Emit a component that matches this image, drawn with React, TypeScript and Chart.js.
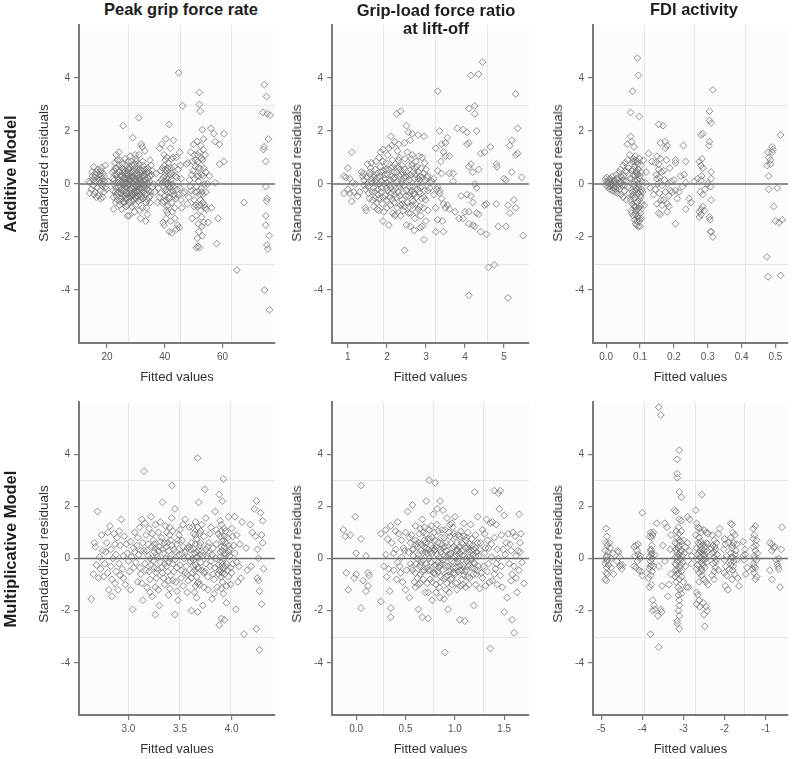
import React, { useEffect, useRef } from "react";
import { Chart, registerables } from "chart.js";

Chart.register(...registerables);
Chart.defaults.font.family = '"Liberation Sans", Arial, Helvetica, sans-serif';

type Pt = [number, number];

// ---------------- Data ----------------
const columnTitles = [["Peak grip force rate"], ["Grip-load force ratio", "at lift-off"], ["FDI activity"]];
const rowTitles = ["Additive Model", "Multiplicative Model"];
const yTitle = "Standardized residuals";
const xTitle = "Fitted values";
const yTicks = [-4, -2, 0, 2, 4];
const refLinesY = [-3, 3];

const addPeakGrip: Pt[] = [
  [14.0,-0.35],[14.2,0.05],[14.6,-0.2],[14.9,0.3],[15.1,-0.05],[15.4,0.65],[15.7,0.25],[15.9,-0.3],[16.1,0.1],[16.4,0.45],[16.6,-0.15],[16.9,0.2],[17.1,-0.45],[17.3,0.35],[17.5,0.05],[17.7,-0.25],[17.9,0.5],[18.0,0.3],[18.2,-0.05],[18.4,0.2],[18.5,-0.5],[18.7,0.4],[18.9,-0.3],[19.1,0.1],[19.4,0.7],[19.8,-0.2],[20.3,0.1],[14.8,0.45],[15.5,-0.4],[16.8,0.55],[17.8,-0.55],[18.1,0.62],[13.7,0.1],[16.3,-0.5],[19.6,-0.1],[17.4,0.15],[18.6,0.0],[15.2,0.15],[16.0,0.35],[19.0,0.3],
  [22.0,0.2],[22.3,-0.95],[22.6,0.5],[22.9,-0.3],[23.2,1.1],[23.5,-0.6],[23.8,0.05],[24.1,1.2],[24.4,-0.8],[24.7,0.3],[25.0,-0.2],[25.3,0.75],[25.6,2.2],[25.9,-0.45],[26.2,0.95],[26.5,-0.85],[26.8,0.1],[27.1,-1.2],[27.4,0.55],[27.7,-1.2],[28.0,1.05],[28.3,-0.35],[28.6,0.25],[28.9,1.75],[29.2,-0.6],[29.5,-1.05],[29.8,1.1],[30.1,0.4],[30.4,-0.25],[30.7,0.65],[31.0,2.5],[31.3,-1.0],[31.6,-1.3],[31.9,1.5],[32.2,1.4],[32.5,-0.55],[32.8,0.15],[33.1,1.25],[33.4,-1.4],[33.7,0.45],[34.0,-1.15],[34.3,0.2],[34.6,-0.5],[34.9,0.9],[35.2,-0.3],[35.5,0.35],[35.8,-0.1],
  [22.4,0.0],[22.8,0.35],[23.1,-0.15],[23.4,0.6],[23.7,-0.35],[24.0,0.15],[24.3,0.45],[24.6,-0.1],[24.9,-0.55],[25.2,0.3],[25.5,0.0],[25.8,0.55],[26.1,-0.25],[26.4,0.2],[26.7,0.7],[27.0,-0.4],[27.3,0.0],[27.6,0.35],[27.9,-0.7],[28.2,0.6],[28.5,-0.15],[28.8,0.05],[29.1,0.5],[29.4,-0.3],[29.7,0.2],[30.0,-0.55],[30.3,0.1],[30.6,-0.1],[30.9,0.35],[31.2,-0.4],[31.5,0.15],[31.8,-0.2],[32.1,0.5],[32.4,0.0],[32.7,-0.3],[33.0,0.3],[33.3,-0.05],[33.6,0.55],[33.9,-0.35],[34.2,0.0],
  [22.2,-0.5],[22.7,0.8],[23.0,-0.7],[23.6,0.25],[24.2,-0.3],[24.5,0.9],[25.1,-0.95],[25.4,0.45],[25.7,-0.65],[26.0,0.05],[26.3,-0.55],[26.6,0.4],[26.9,-0.15],[27.2,0.85],[27.5,-0.05],[27.8,0.15],[28.1,-0.5],[28.4,0.85],[28.7,-0.85],[29.0,0.25],[29.3,0.75],[29.6,-0.15],[29.9,-0.8],[30.2,0.85],[30.5,-0.45],[30.8,0.05],[31.1,1.1],[31.4,0.55],[31.7,-0.6],[32.0,0.25],[32.3,-0.9],[32.6,0.7],[32.9,-0.15],[33.2,0.4],[33.5,-0.7],[33.8,0.05],[34.1,0.6],[34.4,-0.25],[34.8,0.3],[35.6,0.5],[36.2,0.0],
  [25.0,-0.35],[25.3,0.1],[25.9,0.25],[26.2,-0.1],[26.5,0.0],[26.8,-0.3],[27.1,0.2],[27.4,-0.5],[27.7,0.1],[28.0,-0.2],[28.3,0.4],[28.6,-0.45],[28.9,-0.1],[29.2,0.1],[29.5,0.35],[29.8,-0.35],[30.1,-0.05],[30.4,0.3],[30.7,-0.3],[31.0,0.0],[31.3,0.25],[31.6,0.1],[31.9,-0.45],[32.2,-0.15],
  [21.8,0.45],[22.1,-0.25],[22.5,0.15],[22.9,0.6],[23.3,-0.45],[23.6,0.9],[23.9,-0.1],[24.2,0.7],[24.5,-0.65],[24.8,0.05],[25.1,0.6],[25.4,-0.25],[25.7,0.2],[26.0,-0.7],[26.3,0.5],[26.6,-0.35],[26.9,0.35],[27.2,-0.8],[27.5,0.25],[27.8,-0.35],[28.1,0.15],[28.4,-0.6],[28.7,0.45],[29.0,-0.4],[29.3,0.0],[29.6,0.6],[29.9,0.1],[30.2,-0.3],[30.5,0.55],[30.8,-0.65],[31.1,0.2],[31.4,-0.15],[31.7,0.4],[32.0,-0.5],[32.3,0.3],[32.6,-0.05],[32.9,0.55],[33.2,-0.4],[33.5,0.15],[33.8,-0.2],[34.1,-0.6],[34.4,0.45],[34.7,0.1],[35.0,-0.45],[35.3,0.7],[23.5,0.35],[24.7,-0.35],[26.1,0.45],[27.3,0.6],[28.5,0.3],[29.7,-0.5],[30.9,-0.2],[32.4,0.85],[33.6,-0.9],[34.9,-0.7],[25.6,-0.05],[26.7,-0.55],[28.8,0.7],[30.0,0.95],[31.2,0.75],
  [36.5,-0.3],[37.0,0.4],[37.5,-0.7],[38.0,0.05],[38.3,1.35],[38.6,-0.35],[38.9,1.5],[39.2,0.6],[39.4,-1.45],[39.6,-0.1],[39.8,-1.55],[40.0,0.3],[40.2,0.9],[40.4,1.7],[40.5,-0.6],[40.6,0.0],[40.7,-0.85],[40.8,0.5],[40.9,-0.3],[41.0,-1.1],[41.1,0.2],[41.2,0.8],[41.3,-0.5],[41.5,2.25],[41.6,-1.8],[41.7,0.35],[41.8,-0.15],[42.0,1.35],[42.1,-1.4],[42.2,0.6],[42.4,-0.7],[42.5,-1.85],[42.7,0.0],[42.9,1.0],[43.0,1.65],[43.2,-0.4],[43.5,-1.3],[43.7,0.3],[44.0,1.0],[44.1,-1.7],[44.3,-0.2],[44.5,-1.55],[44.8,4.2],[45.0,-1.65],[45.2,1.2],[45.4,0.7],[45.6,-0.6],[45.9,-0.9],[46.2,2.95],[40.1,-0.45],[40.3,0.1],[39.9,0.7],[41.4,-0.05],[40.6,-1.0],[39.5,0.25],[41.9,0.45],[43.4,-0.9],[42.8,-0.25],[44.6,0.55],[39.1,-0.7],[43.8,-0.55],[46.5,-0.35],[38.8,0.15],[40.8,1.0],[42.3,0.95],[37.8,-0.15],[45.7,0.2],
  [38.2,-0.5],[38.7,0.5],[39.3,0.05],[39.7,-0.65],[40.1,0.55],[40.4,-0.2],[40.7,0.25],[41.0,0.6],[41.3,0.05],[41.6,-0.55],[41.9,-0.3],[42.2,0.15],[42.6,0.4],[43.0,-0.1],[43.3,0.65],[43.6,-0.45],[44.2,0.25],[44.7,-0.4],[45.3,-0.15],[40.5,-1.3],[41.1,-0.8],[39.8,1.1],[42.6,-1.05],
  [47.0,-0.3],[47.5,0.75],[47.8,-0.75],[48.0,0.8],[48.3,-0.5],[48.6,0.15],[49.0,1.2],[49.2,-0.25],[49.5,-1.3],[49.8,0.5],[50.0,1.5],[50.2,-0.6],[50.5,-0.3],[50.7,0.9],[50.9,-1.2],[51.0,-2.4],[51.1,0.3],[51.2,1.6],[51.3,-2.05],[51.4,-0.85],[51.5,-2.35],[51.5,0.85],[51.6,-1.5],[51.7,0.1],[51.8,-1.8],[51.9,1.2],[52.0,-2.4],[52.0,3.45],[52.0,3.0],[52.1,-0.4],[52.2,0.6],[52.3,2.75],[52.4,-1.0],[52.5,1.45],[52.6,-0.15],[52.7,-1.25],[52.8,0.35],[53.0,2.05],[53.0,-1.95],[53.1,0.9],[53.2,-0.7],[53.4,1.3],[53.5,1.7],[53.5,-1.45],[53.7,0.0],[53.8,-0.8],[54.0,1.1],[54.0,-0.9],[54.2,0.45],[54.5,-0.95],[54.8,0.0],[55.0,-1.45],[51.6,0.6],[52.4,-0.6],[50.4,0.2],[53.3,0.3],[51.0,-0.1],[52.9,-0.3],[49.6,0.85],[50.8,-0.8],
  [48.8,-0.1],[49.4,0.35],[50.1,-0.85],[50.6,0.65],[51.2,-0.3],[51.8,0.3],[52.2,-0.8],[52.6,0.95],[53.1,-0.4],[53.6,0.6],[54.3,-0.3],[51.4,1.1],[52.8,-1.6],[50.3,1.1],
  [56.0,2.1],[57.0,1.9],[57.5,1.6],[59.0,1.5],[60.5,1.9],[59.0,0.75],[60.5,0.85],[57.5,0.05],[58.5,-1.3],[58.0,-2.25],[56.2,-0.9],[55.5,0.3],[65.0,-3.25],[67.5,-0.7],
  [74.5,3.75],[75.3,3.3],[74.0,2.7],[75.5,2.65],[75.9,1.7],[74.4,1.4],[74.2,1.3],[75.0,0.85],[75.0,-0.1],[75.5,-0.55],[75.3,-0.65],[75.0,-1.2],[75.0,-1.55],[75.4,-2.3],[75.7,-2.45],[74.6,-4.0],[76.3,-4.75],[76.5,2.6],[76.2,-1.95]
];

const addGripLoad: Pt[] = [
  [0.9,0.3],[0.95,0.25],[1.0,0.6],[1.05,0.2],[1.1,1.2],[1.0,-0.2],[0.9,-0.35],[1.05,-0.35],[1.1,-0.65],[1.15,-0.3],[1.2,0.0],[1.25,-0.45],[1.3,-0.3],[1.12,0.05],[1.35,0.45],[1.38,0.3],
  [1.40,0.4],[1.45,-0.2],[1.50,0.75],[1.55,-0.55],[1.60,0.1],[1.65,-0.15],[1.70,0.55],[1.75,-0.7],[1.80,1.0],[1.85,-0.3],[1.90,1.3],[1.95,0.2],[2.00,-0.9],[2.05,1.35],[2.10,0.6],[2.15,-1.1],[2.20,1.6],[2.25,-0.5],[2.30,0.9],[2.35,-0.8],[2.40,0.45],[2.45,1.55],[2.50,-0.25],[2.55,0.7],[2.60,-1.1],[2.65,1.1],[2.70,-0.4],[2.75,0.85],[2.80,-0.95],[2.85,0.3],[2.90,1.0],[2.95,-0.5],[3.00,0.55],[3.05,-0.25],[3.10,0.05],
  [1.42,-0.05],[1.48,0.25],[1.53,-0.35],[1.58,0.6],[1.63,-0.6],[1.68,0.3],[1.73,0.05],[1.78,-0.4],[1.83,0.65],[1.88,-0.75],[1.93,0.0],[1.98,0.8],[2.03,-0.25],[2.08,0.15],[2.13,-0.6],[2.18,0.45],[2.23,-0.15],[2.28,0.1],[2.33,-0.45],[2.38,0.7],[2.43,-0.05],[2.48,0.3],[2.53,-0.7],[2.58,0.15],[2.63,-0.25],[2.68,0.45],[2.73,-0.75],[2.78,0.05],[2.83,-0.3],[2.88,0.6],[2.93,-0.9],[2.98,0.15],
  [1.50,0.0],[1.57,0.35],[1.62,-0.3],[1.70,-0.55],[1.76,0.25],[1.81,0.0],[1.86,-0.15],[1.91,0.5],[1.96,-0.45],[2.01,0.35],[2.06,-0.05],[2.11,-0.35],[2.16,0.2],[2.21,0.75],[2.26,-0.9],[2.31,0.3],[2.36,0.0],[2.41,-0.3],[2.46,0.95],[2.51,0.1],[2.56,-0.45],[2.61,0.35],[2.66,-0.1],[2.71,0.2],[2.76,-0.5],[2.81,0.45],[2.86,-0.15],[2.91,0.25],[2.96,-0.25],
  [1.72,0.85],[1.84,1.2],[1.92,-1.05],[2.02,1.1],[2.12,1.45],[2.22,-1.15],[2.27,1.25],[2.32,1.0],[2.42,-1.0],[2.52,1.2],[2.62,0.95],[2.72,-1.3],[2.82,1.05],[2.87,-1.2],[2.97,0.8],[1.66,-0.85],[1.79,-1.0],[2.09,-0.8],[2.19,-0.7],[2.39,-0.6],[2.57,-0.85],[2.67,-0.65],[2.77,0.65],[1.97,0.55],[2.14,0.9],[2.34,0.55],[2.44,0.25],[2.24,0.05],
  [1.41,0.15],[1.52,-0.1],[1.56,0.45],[1.61,0.2],[1.64,0.05],[1.69,-0.3],[1.74,0.4],[1.77,-0.2],[1.82,0.3],[1.87,0.1],[1.89,-0.5],[1.94,0.35],[1.99,-0.15],[2.04,0.55],[2.07,-0.5],[2.12,0.3],[2.17,-0.25],[2.2,0.25],[2.25,0.45],[2.29,-0.3],[2.32,-0.1],[2.37,0.35],[2.4,-0.75],[2.45,0.55],[2.49,-0.45],[2.54,0.3],[2.59,-0.1],[2.64,0.7],[2.69,-0.35],[2.74,0.35],[2.79,-0.2],[2.84,0.15],[2.89,-0.55],[2.94,0.4],[2.99,-0.6],[3.02,0.25],[1.7,0.15],[1.8,-0.55],[1.9,0.85],[2.0,0.05],[2.1,-0.15],[2.2,-0.4],[2.3,0.65],[2.4,0.1],[2.5,0.45],[2.6,-0.35],[2.7,0.6],[2.8,0.2],[2.9,-0.1],[2.0,-0.6],[2.15,0.65],[2.35,-1.2],[2.55,-1.1],[2.75,-1.05],[1.85,0.45],[2.45,-0.85],[2.65,-0.8],[2.85,-0.85],
  [2.25,2.65],[2.35,2.75],[2.5,2.2],[2.55,1.95],[2.65,1.9],[2.6,1.65],[2.8,1.85],[2.95,1.8],[2.1,1.8],[2.3,1.5],[2.45,-2.5],[2.95,-2.1],[1.45,-0.9],[1.47,-1.0],[1.9,-1.4],[2.05,-1.55],[2.5,-1.55],[2.6,-1.6],[2.7,-1.75],[2.85,-1.65],[2.9,-1.6],[2.2,-1.2],[3.0,-1.4],[3.05,-1.0],[1.75,-0.95],[1.6,0.8],
  [3.3,3.5],[3.35,2.0],[3.25,1.35],[3.4,1.5],[3.5,1.55],[3.55,1.75],[3.45,1.2],[3.5,1.05],[3.6,1.05],[3.3,0.5],[3.4,0.4],[3.6,0.4],[3.7,0.1],[3.3,-0.1],[3.35,-0.25],[3.2,-0.4],[3.4,-0.55],[3.25,-0.9],[3.45,-0.75],[3.5,-0.9],[3.3,-1.35],[3.45,-1.8],[3.25,-1.8],[3.55,-0.8],[3.6,-0.95],[3.1,-0.15],[3.15,0.1],[3.05,0.3],[3.2,0.2],[3.35,-0.35],[3.28,-0.2],[3.38,0.85],[3.42,-1.4],
  [3.8,2.1],[3.95,2.05],[4.05,1.95],[4.3,2.0],[4.15,4.1],[4.35,4.15],[4.45,4.6],[4.1,2.85],[4.25,2.95],[4.25,2.65],[4.05,1.5],[4.1,1.55],[4.4,1.15],[4.5,1.2],[4.65,1.4],[4.8,0.75],[4.82,0.65],[4.1,0.65],[4.15,0.75],[4.35,0.55],[4.2,0.45],[4.25,0.0],[4.3,-0.15],[3.9,-0.45],[4.05,-0.4],[4.15,-0.45],[4.2,-0.7],[4.3,-1.1],[4.35,-1.15],[4.1,-1.05],[4.0,-1.05],[3.95,-1.3],[4.5,-0.8],[4.55,-0.75],[4.8,-0.75],[4.1,-1.5],[4.2,-1.55],[4.25,-1.6],[4.4,-1.8],[4.55,-1.9],[4.85,-1.6],[4.6,-3.15],[4.75,-3.05],[4.1,-4.2],[5.1,-4.3],[5.0,0.2],[5.05,0.15],[5.15,1.45],[5.2,1.65],[5.3,1.1],[5.35,1.15],[5.35,2.1],[5.3,3.4],[5.2,0.45],[5.45,0.25],[5.1,-0.8],[5.25,-0.6],[5.15,-1.1],[5.3,-0.9],[5.05,-1.6],[5.49,-1.95],[3.75,-1.05],[3.85,-1.3],[3.7,0.4]
];

const addFdi: Pt[] = [
  [-0.002,0.2],[0.0,0.1],[0.0,-0.05],[0.002,0.25],[0.004,0.05],[0.006,-0.1],[0.008,0.15],[0.01,-0.2],[0.01,0.05],[0.012,0.2],[0.014,-0.05],[0.016,0.1],[0.018,-0.25],[0.02,0.3],[0.02,0.0],[0.022,-0.15],[0.024,0.15],[0.026,-0.3],[0.028,0.05],[0.03,0.35],[0.03,-0.1],[0.032,0.2],[0.034,-0.35],[0.036,0.0],[0.038,0.45],[0.04,-0.2],[0.04,0.1],[0.042,0.55],[0.044,-0.4],[0.046,0.25],[0.048,-0.05],[0.05,0.7],[0.05,-0.5],[0.052,0.3],[0.054,-0.25],[0.056,0.8],[0.058,0.1],[0.06,-0.6],[0.06,0.45],[0.062,1.5],[0.064,-0.1],[0.066,0.6],[0.068,-0.35],[0.07,1.1],[0.07,0.2],[0.015,0.0],[0.025,0.1],[0.035,-0.15],[0.045,0.05],[0.055,-0.05],[0.012,-0.1],[0.028,-0.2],[0.043,0.3],[0.05,0.15],[0.058,0.5],[0.064,0.9],
  [0.072,2.7],[0.072,1.8],[0.075,1.6],[0.078,3.5],[0.082,1.4],[0.092,4.75],[0.095,4.1],[0.098,2.55],[0.072,-0.6],[0.074,-1.0],[0.075,-1.1],[0.076,0.5],[0.078,-0.3],[0.078,0.85],[0.08,-1.2],[0.08,0.0],[0.082,-0.8],[0.083,0.65],[0.084,-1.35],[0.085,-0.5],[0.085,0.3],[0.086,1.05],[0.087,-1.5],[0.088,-0.15],[0.088,0.9],[0.089,-1.0],[0.09,0.4],[0.09,-1.55],[0.091,-0.7],[0.092,0.15],[0.093,-1.25],[0.093,0.75],[0.094,-0.35],[0.095,-1.6],[0.095,0.55],[0.096,-0.9],[0.097,0.0],[0.098,-1.4],[0.098,0.95],[0.1,-1.6],[0.1,-0.45],[0.1,0.3],[0.101,-1.1],[0.102,0.7],[0.103,-0.75],[0.104,-1.3],[0.105,0.1],[0.105,-0.2],[0.076,-0.45],[0.081,0.35],[0.086,-0.25],[0.091,0.85],[0.097,-0.6],[0.099,-1.0],[0.083,-0.1],[0.089,0.5],[0.094,-1.2],[0.102,-0.5],[0.08,0.95],[0.087,-0.85],[0.11,0.9],[0.108,-0.3],[0.112,-0.8],[0.115,0.05],[0.118,0.45],
  [0.074,0.2],[0.077,-0.75],[0.079,0.55],[0.081,-0.55],[0.084,0.15],[0.086,-1.15],[0.088,0.45],[0.09,-0.2],[0.092,-0.95],[0.094,0.35],[0.096,-0.15],[0.099,0.2],[0.101,-0.3],[0.103,0.45],[0.091,-1.4],[0.085,-0.85],[0.097,-1.3],[0.1,-0.85],[0.08,-0.4],[0.083,0.85],
  [0.125,1.15],[0.13,-0.15],[0.135,0.85],[0.14,-0.4],[0.145,0.8],[0.145,-0.2],[0.148,0.35],[0.15,1.05],[0.15,-0.75],[0.152,0.0],[0.155,0.75],[0.155,-1.1],[0.155,2.25],[0.157,-0.35],[0.158,0.25],[0.16,-1.15],[0.16,1.55],[0.162,-0.6],[0.163,0.45],[0.165,-0.05],[0.168,2.2],[0.17,-0.6],[0.17,0.5],[0.172,0.15],[0.175,1.6],[0.175,1.35],[0.175,-0.3],[0.178,0.9],[0.18,1.45],[0.18,-1.05],[0.18,-0.75],[0.182,0.0],[0.185,-0.45],[0.188,0.6],[0.19,-0.25],[0.192,0.1],[0.195,-0.3],[0.155,0.55],[0.165,-0.8],[0.15,0.2],[0.16,0.95],[0.185,-0.85],
  [0.2,0.15],[0.205,0.9],[0.205,0.8],[0.205,-0.25],[0.21,-0.55],[0.205,-1.5],[0.22,0.3],[0.228,1.45],[0.23,0.35],[0.235,0.85],[0.235,0.05],[0.235,-0.95],[0.245,-0.55],[0.25,-0.7],[0.26,0.1],[0.215,-0.3],[0.225,-0.1],
  [0.27,0.2],[0.275,0.85],[0.275,-1.05],[0.275,-1.25],[0.28,1.85],[0.28,0.7],[0.28,0.15],[0.28,-0.95],[0.28,-1.15],[0.283,0.95],[0.285,1.9],[0.285,0.6],[0.285,-0.85],[0.285,-0.4],[0.29,-1.0],[0.292,-0.2],[0.3,0.0],[0.303,1.45],[0.305,2.75],[0.305,2.4],[0.305,1.6],[0.305,-1.25],[0.307,-1.35],[0.308,-0.1],[0.308,-1.8],[0.31,2.3],[0.31,0.45],[0.31,0.2],[0.31,-0.6],[0.31,-1.8],[0.315,-2.0],[0.315,3.55],[0.278,-0.3],[0.282,0.3],
  [0.478,1.2],[0.48,1.0],[0.475,0.7],[0.485,0.75],[0.48,0.3],[0.49,1.4],[0.492,1.3],[0.49,1.2],[0.485,0.9],[0.48,-0.2],[0.505,-0.15],[0.495,-0.85],[0.5,-1.4],[0.51,-1.45],[0.52,-1.35],[0.515,1.85],[0.475,-2.75],[0.478,-3.5],[0.515,-3.45]
];

const mulPeakGrip: Pt[] = [
  [2.64,-1.55],[2.66,-0.6],[2.68,0.45],[2.7,1.8],[2.71,-0.75],[2.72,0.05],[2.74,0.9],[2.76,-0.7],[2.77,-0.2],[2.79,0.6],[2.8,-0.55],[2.81,-1.2],[2.82,1.25],[2.83,0.35],[2.84,-1.45],[2.85,0.0],[2.86,0.95],[2.87,-0.95],[2.88,0.15],[2.89,0.8],[2.9,-1.2],[2.91,-0.2],[2.92,0.5],[2.93,1.5],[2.94,-0.4],[2.95,0.1],[2.97,-1.0],[2.99,0.2],[3.0,-0.1],[3.02,0.65],[3.04,-1.95],[3.05,-0.35],[3.06,1.0],[3.08,0.5],[3.09,-0.9],[3.1,0.15],[3.11,1.2],[3.12,-0.6],[3.13,1.5],[3.14,-1.6],[3.15,3.35],[3.15,0.3],[3.16,-0.2],[3.17,0.9],[3.18,-1.1],[3.19,0.55],[3.2,1.15],[3.2,-0.5],[3.21,0.0],[3.22,1.6],[3.23,-1.45],[3.24,0.7],[3.25,-0.35],[3.25,0.25],[3.26,-2.15],[3.26,1.3],[3.27,-0.75],[3.28,0.05],[3.29,1.0],[3.3,-1.8],[3.3,0.45],[3.31,-0.15],[3.32,0.8],[3.33,2.15],[3.33,-0.55],[3.34,0.2],[3.35,-1.0],[3.36,1.25],[3.37,-0.3],[3.38,0.6],[3.39,-1.4],[3.4,0.0],[3.4,0.9],[3.41,-0.65],[3.42,2.8],[3.42,1.55],[3.43,-0.2],[3.44,0.35],[3.45,-2.15],[3.45,1.9],[3.46,-0.9],[3.47,0.55],[3.48,-1.6],[3.49,0.15],[3.5,1.1],[3.51,-0.45],[3.52,0.7],[3.53,-1.05],[3.54,0.0],[3.55,1.5],[3.56,-0.3],[3.57,0.4],[3.58,-0.85],[3.59,1.2],[3.6,-0.1],[3.61,-2.0],[3.61,0.6],[3.62,-0.55],[3.63,0.95],[3.64,-1.3],[3.64,0.2],[3.65,-0.25],[3.65,1.4],[3.66,0.75],[3.66,-0.7],[3.67,3.85],[3.67,-2.05],[3.67,0.05],[3.68,2.15],[3.68,-0.4],[3.69,0.5],[3.69,-1.0],[3.7,1.05],[3.7,-0.15],[3.71,0.3],[3.72,-1.8],[3.73,0.85],[3.74,2.65],[3.74,-0.5],[3.75,1.55],[3.76,0.1],[3.77,-1.2],[3.78,0.6],[3.79,-0.3],[3.8,1.2],[3.81,-1.55],[3.82,0.4],[3.83,-0.8],[3.84,1.8],[3.85,0.0],[3.86,-1.1],[3.87,0.95],[3.88,2.45],[3.88,-2.55],[3.88,-0.45],[3.89,0.25],[3.9,-2.3],[3.9,1.3],[3.9,-0.15],[3.91,2.2],[3.91,0.65],[3.91,-0.9],[3.92,3.05],[3.92,0.0],[3.92,-1.35],[3.93,-2.35],[3.93,0.45],[3.93,-0.6],[3.94,1.05],[3.94,-0.3],[3.95,0.15],[3.95,-1.7],[3.96,0.8],[3.97,1.6],[3.97,-0.7],[3.98,0.35],[3.99,-1.0],[4.0,1.15],[4.01,-0.2],[4.02,0.5],[4.03,1.6],[4.04,-1.95],[4.05,0.9],[4.06,-0.9],[4.08,0.55],[4.1,1.4],[4.12,-2.9],[4.15,-0.45],[4.18,1.3],[4.2,1.0],[4.22,1.9],[4.23,0.85],[4.24,2.2],[4.24,-2.7],[4.25,-0.75],[4.26,-0.85],[4.26,0.0],[4.27,-1.25],[4.27,-3.5],[4.28,1.75],[4.29,-1.75],[4.3,1.45],[4.3,0.6],[4.31,-0.4],
  [3.24,-0.1],[3.26,0.4],[3.27,0.15],[3.38,-0.5],[3.39,0.3],[3.41,0.1],[3.43,-0.85],[3.63,0.35],[3.64,-0.45],[3.66,0.25],[3.68,-0.9],[3.69,0.95],[3.89,-0.5],[3.9,0.45],[3.91,-0.25],[3.92,0.7],[3.93,1.15],[3.89,0.85],[3.62,1.2],[3.66,-1.5],[3.47,-0.35],[3.53,0.45],[3.35,0.6],[3.21,-0.8],[3.12,0.3],[3.05,0.4],[3.57,-0.6],[3.73,-0.55],[3.78,0.2],[3.84,-0.35],[3.96,-0.45],[3.98,0.1],
  [2.67,0.6],[2.73,-0.4],[2.78,0.25],[2.83,-0.3],[2.87,0.55],[2.92,-0.65],[2.96,0.85],[3.01,-0.5],[3.03,0.05],[3.07,-0.15],[3.11,-0.35],[3.14,0.6],[3.17,-0.45],[3.19,0.1],[3.22,-0.25],[3.23,0.45],[3.28,-0.4],[3.29,0.3],[3.31,0.65],[3.32,-0.35],[3.34,-0.75],[3.36,0.0],[3.37,0.45],[3.39,-0.15],[3.42,0.5],[3.44,-0.5],[3.46,0.25],[3.48,0.7],[3.5,-0.25],[3.52,0.2],[3.55,-0.55],[3.58,0.05],[3.6,0.35],[3.62,0.0],[3.63,-0.3],[3.65,0.55],[3.66,0.05],[3.67,-0.35],[3.68,0.3],[3.7,0.6],[3.71,-0.45],[3.72,0.1],[3.75,-0.2],[3.77,0.45],[3.8,-0.1],[3.82,-0.6],[3.85,0.55],[3.87,-0.25],[3.89,0.05],[3.9,-0.7],[3.91,0.3],[3.92,-0.4],[3.93,0.2],[3.94,0.6],[3.95,-0.2],[3.97,0.25],[4.0,-0.55],[4.03,0.2],[4.07,-0.3],[3.26,-1.1],[3.4,-1.15],[3.65,-1.05],[3.9,-1.15],[3.4,1.2],[3.67,1.2],[3.9,1.05],
  [2.69,-0.25],[2.75,0.3],[2.8,1.0],[2.84,-0.8],[2.88,-0.5],[2.91,1.05],[2.95,-0.75],[2.98,0.55],[3.02,-1.2],[3.06,0.25],[3.09,0.8],[3.13,-0.95],[3.16,1.35],[3.18,0.3],[3.21,-1.3],[3.23,0.95],[3.25,0.55],[3.27,-0.55],[3.29,-1.2],[3.31,1.4],[3.33,0.35],[3.35,-0.2],[3.37,1.0],[3.39,-0.85],[3.41,0.7],[3.43,1.05],[3.45,-0.05],[3.47,-1.25],[3.49,0.9],[3.51,-0.75],[3.53,1.3],[3.55,0.25],[3.57,-1.3],[3.59,0.45],[3.61,-0.75],[3.63,-0.05],[3.65,0.9],[3.67,-0.95],[3.69,0.15],[3.71,1.3],[3.73,-1.1],[3.75,0.35],[3.77,-0.7],[3.79,0.95],[3.81,0.15],[3.83,-1.35],[3.85,1.1],[3.87,-0.6],[3.89,1.45],[3.91,-0.55],[3.93,0.85],[3.95,-1.05],[3.97,0.5],[3.99,-0.35],[4.01,0.85],[4.05,-0.15],[4.09,-0.75],[4.14,0.4],[4.19,-0.3],[4.25,0.35],[4.29,0.9]
];

const mulGripLoad: Pt[] = [
  [-0.13,1.1],[-0.11,0.85],[-0.06,0.9],[-0.1,-0.55],[-0.08,-1.2],[-0.02,-0.75],[0.0,-0.6],[-0.01,1.6],[0.0,0.2],[0.05,2.8],[0.05,0.75],[0.05,-1.9],[0.07,-0.85],[0.1,0.1],[0.1,-1.25],[0.12,-0.55],[0.13,-0.65],[0.12,-1.05],
  [0.25,0.95],[0.28,-0.3],[0.25,-1.65],[0.3,1.1],[0.3,0.15],[0.32,0.75],[0.33,-0.4],[0.34,-1.25],[0.35,1.25],[0.35,-1.9],[0.35,-2.25],[0.36,0.6],[0.38,-0.45],[0.4,1.05],[0.4,0.35],[0.41,-0.8],[0.42,1.4],[0.43,0.95],[0.44,-0.3],[0.46,0.05],[0.47,-0.9],[0.48,0.4],[0.5,1.0],[0.5,-1.2],[0.49,0.3],[0.45,-0.55],
  [0.42,-0.15],[0.46,0.7],[0.38,0.2],[0.31,-0.7],
  [0.52,1.8],[0.54,-1.5],[0.55,0.6],[0.56,-0.35],[0.57,2.05],[0.58,0.1],[0.59,-0.9],[0.6,1.25],[0.61,-0.2],[0.62,0.45],[0.63,-1.95],[0.64,0.95],[0.65,-0.6],[0.66,0.3],[0.67,-2.25],[0.67,1.5],[0.68,-0.05],[0.69,0.7],[0.7,-1.3],[0.71,2.2],[0.72,0.2],[0.73,-2.3],[0.73,-0.45],[0.74,3.0],[0.74,1.1],[0.75,-0.8],[0.76,0.5],[0.77,-1.6],[0.78,1.7],[0.79,-0.25],[0.8,2.9],[0.8,0.35],[0.81,-1.0],[0.82,1.3],[0.83,-0.5],[0.84,0.05],[0.85,2.2],[0.85,-1.5],[0.86,0.8],[0.87,-0.2],[0.88,1.85],[0.89,-1.55],[0.9,-3.6],[0.9,0.45],[0.91,-0.7],[0.92,1.55],[0.93,-1.95],[0.93,0.15],[0.94,1.0],[0.95,-0.4],[0.96,0.6],[0.97,-1.0],[0.98,1.2],[0.99,-0.15],[1.0,1.6],[1.0,-0.6],[1.01,0.3],[1.02,-1.2],[1.03,0.9],[1.04,-0.3],[1.05,-2.35],[1.05,0.45],[1.06,1.05],[1.07,-0.8],[1.08,0.1],[1.09,1.35],[1.1,-2.4],[1.1,-0.5],[1.11,0.7],[1.12,-0.1],[1.13,1.0],[1.14,-1.0],[1.15,0.25],[1.16,1.3],[1.17,-0.35],[1.18,0.5],[1.19,-1.8],[1.2,2.55],[1.2,-0.2],[1.21,0.9],[1.22,-0.6],[1.23,1.6],[1.24,0.1],[1.25,-1.15],
  [0.55,-0.2],[0.58,0.35],[0.6,-0.55],[0.62,0.0],[0.64,-0.3],[0.66,0.55],[0.68,-0.8],[0.7,0.25],[0.72,-0.35],[0.74,0.0],[0.76,-0.15],[0.78,0.4],[0.8,-0.6],[0.82,0.15],[0.84,-0.35],[0.86,0.25],[0.88,-0.05],[0.9,-0.25],[0.92,0.05],[0.94,-0.5],[0.96,0.2],[0.98,-0.35],[1.0,0.05],[1.02,0.35],[1.04,0.0],[1.06,-0.25],[1.08,0.55],[1.1,0.1],[1.12,-0.45],[1.14,0.35],[1.16,-0.05],[1.18,0.15],[1.2,-0.4],[1.22,0.25],[1.24,-0.3],
  [0.56,0.9],[0.6,0.7],[0.63,-1.0],[0.65,1.15],[0.69,-0.45],[0.71,0.95],[0.75,0.75],[0.77,-0.9],[0.79,1.0],[0.81,-1.3],[0.83,0.6],[0.87,1.1],[0.89,0.8],[0.91,-1.2],[0.95,0.85],[0.97,-0.75],[0.99,0.45],[1.01,-0.95],[1.03,-0.5],[1.07,0.6],[1.09,-0.65],[1.11,-1.1],[1.13,0.45],[1.15,-0.75],[1.17,0.75],[1.19,0.35],[1.21,-1.0],[0.73,-1.3],[0.85,-0.9],[0.92,-0.95],[0.97,1.35],[0.82,1.9],[0.78,-0.55],[0.66,-0.15],[0.88,0.4],[1.05,0.2],
  [0.53,0.25],[0.57,-0.45],[0.61,0.55],[0.63,0.15],[0.65,-0.25],[0.67,0.2],[0.69,0.45],[0.71,-0.2],[0.73,0.35],[0.75,-0.45],[0.77,0.2],[0.79,-0.55],[0.81,0.45],[0.83,-0.15],[0.85,0.35],[0.87,-0.45],[0.89,0.1],[0.91,0.3],[0.93,-0.3],[0.95,0.15],[0.97,0.4],[0.99,-0.55],[1.01,0.15],[1.03,-0.15],[1.05,-0.45],[1.07,0.3],[1.09,-0.25],[1.11,0.4],[1.13,-0.3],[1.15,0.55],[1.17,0.0],[1.19,-0.15],[1.21,0.4],[1.23,-0.45],[0.7,0.6],[0.76,1.25],[0.84,-1.1],[0.9,1.1],[0.94,-1.3],[1.0,0.85],[1.06,-1.05],[1.12,0.8],[0.62,-0.75],[0.8,0.7],[0.86,-0.7],[0.96,-0.8],[1.02,0.6],[1.08,-1.0],[0.72,-0.95],[0.68,1.0],
  [0.51,-0.45],[0.54,0.8],[0.57,0.35],[0.6,-1.1],[0.63,0.6],[0.65,-0.95],[0.67,-0.5],[0.69,1.2],[0.71,0.4],[0.73,0.75],[0.75,0.25],[0.77,0.8],[0.79,0.3],[0.81,-0.25],[0.83,1.05],[0.85,-0.25],[0.87,0.55],[0.89,-0.75],[0.91,0.6],[0.93,-0.65],[0.95,1.3],[0.97,-0.1],[0.99,0.95],[1.01,-0.35],[1.03,0.3],[1.05,0.85],[1.07,-0.45],[1.09,0.85],[1.11,0.0],[1.13,-0.7],[1.15,-0.25],[1.17,0.3],[1.19,-0.6],[1.21,0.1],[1.23,0.6],[1.25,0.35],[1.28,-0.75],[1.31,0.4],[1.34,-0.2],[1.37,0.55],[1.4,-0.6],[1.43,0.35],[1.47,-0.3],[1.51,0.15],[1.54,0.95],[1.57,-0.85],
  [1.26,0.6],[1.27,-0.55],[1.28,1.1],[1.29,-0.3],[1.3,0.2],[1.31,-1.05],[1.32,1.5],[1.33,-0.5],[1.34,0.4],[1.35,-0.9],[1.36,1.35],[1.36,-3.45],[1.37,0.05],[1.38,-0.85],[1.38,1.4],[1.4,2.6],[1.4,0.8],[1.41,-0.4],[1.42,1.3],[1.43,-1.0],[1.44,2.5],[1.44,0.0],[1.45,1.9],[1.46,2.6],[1.46,-0.65],[1.47,0.9],[1.48,-1.1],[1.49,0.35],[1.5,-2.05],[1.5,1.65],[1.52,0.6],[1.53,-1.5],[1.55,-0.2],[1.56,0.55],[1.57,0.3],[1.58,-2.35],[1.58,-0.6],[1.59,1.0],[1.6,-2.85],[1.6,-0.3],[1.61,0.85],[1.62,0.1],[1.63,-1.3],[1.64,0.3],[1.65,1.7],[1.65,-0.45],[1.66,0.6],[1.67,0.95],[1.68,-0.15],[1.7,-0.95],[1.66,0.25],[1.62,-0.75],[1.3,0.95],[1.33,0.7],[1.42,-0.2]
];

const mulFdi: Pt[] = [
  [-4.88,1.15],[-4.86,0.85],[-4.88,0.6],[-4.85,0.5],[-4.9,0.3],[-4.87,0.05],[-4.85,-0.05],[-4.9,-0.2],[-4.86,-0.35],[-4.88,-0.55],[-4.85,-0.6],[-4.9,-0.8],[-4.87,-0.85],[-4.83,0.25],[-4.82,-0.25],[-4.8,0.6],[-4.78,0.4],[-4.76,-0.35],[-4.75,0.0],[-4.7,-0.6],[-4.72,0.2],
  [-4.6,0.3],[-4.58,0.25],[-4.55,0.05],[-4.53,-0.25],[-4.5,-0.4],[-4.55,-0.3],[-4.48,-0.25],[-4.62,-0.1],
  [-4.2,0.45],[-4.15,0.5],[-4.1,0.55],[-4.2,-0.3],[-4.15,-0.35],[-4.1,0.15],[-4.05,0.1],[-4.08,-0.45],[-4.02,-0.5],[-4.0,-0.65],[-4.0,1.75],[-4.05,0.0],[-4.12,-0.1],[-4.18,0.1],
  [-3.8,1.0],[-3.78,0.8],[-3.82,0.85],[-3.77,0.5],[-3.8,0.3],[-3.78,0.15],[-3.82,0.05],[-3.76,0.0],[-3.8,-0.1],[-3.78,-0.25],[-3.83,-0.4],[-3.76,-0.5],[-3.8,-0.65],[-3.82,-1.1],[-3.78,-1.0],[-3.8,-2.9],[-3.75,-1.6],[-3.72,-1.8],[-3.75,0.9],[-3.73,1.0],[-3.72,-0.3],[-3.7,0.15],[-3.85,-0.75],[-3.75,-2.0],
  [-3.6,5.8],[-3.55,5.5],[-3.65,1.35],[-3.7,-1.95],[-3.6,-3.4],[-3.55,-1.95],[-3.53,-2.05],[-3.52,-1.05],[-3.5,0.5],[-3.45,1.35],[-3.4,1.2],[-3.45,-0.1],[-3.38,-1.45],[-3.35,-1.0],[-3.3,0.9],[-3.32,0.35],[-3.3,-0.6],[-3.6,-0.3],[-3.62,-2.2],
  [-3.1,4.15],[-3.15,3.8],[-3.15,3.25],[-3.15,3.1],[-3.1,2.55],[-3.05,2.35],[-3.22,1.85],[-3.18,1.8],[-3.1,1.5],[-3.05,1.45],[-3.12,1.2],[-3.05,1.05],[-3.15,0.8],[-3.2,0.6],[-3.1,0.5],[-3.18,0.35],[-3.05,0.3],[-3.12,0.15],[-3.2,0.05],[-3.08,0.0],[-3.15,-0.1],[-3.02,-0.15],[-3.18,-0.25],[-3.1,-0.35],[-3.05,-0.5],[-3.15,-0.6],[-3.2,-0.7],[-3.1,-0.8],[-3.13,-1.1],[-3.08,-1.2],[-3.12,-1.4],[-3.1,-1.6],[-3.1,-1.8],[-3.12,-2.0],[-3.1,-2.2],[-3.15,-2.4],[-3.15,-2.5],[-3.1,-2.7],[-3.05,-1.35],[-3.0,0.7],[-2.98,0.2],[-2.95,-0.3],[-2.95,0.45],[-3.0,-0.9],[-2.9,1.6],[-2.85,1.5],[-2.9,0.6],[-2.92,-1.1],[-2.88,-1.1],[-3.16,0.25],[-3.07,0.65],[-3.14,-0.45],[-3.06,-0.05],[-3.19,-0.45],[-3.03,0.1],[-3.11,0.95],[-3.17,1.05],[-2.85,0.3],[-2.8,-0.2],[-2.8,0.1],
  [-3.12,0.4],[-3.08,0.25],[-3.14,0.05],[-3.06,-0.25],[-3.12,-0.55],[-3.1,0.7],[-3.18,-0.9],[-3.04,-0.7],[-3.16,0.55],[-3.2,-0.2],
  [-2.7,1.85],[-2.68,1.35],[-2.65,1.2],[-2.6,1.15],[-2.55,2.45],[-2.5,1.1],[-2.45,1.0],[-2.7,0.9],[-2.62,0.8],[-2.58,0.65],[-2.52,0.55],[-2.48,0.45],[-2.68,0.4],[-2.6,0.3],[-2.55,0.2],[-2.5,0.1],[-2.45,0.0],[-2.65,-0.05],[-2.58,-0.15],[-2.52,-0.25],[-2.48,-0.35],[-2.68,-0.4],[-2.62,-0.55],[-2.55,-0.65],[-2.5,-0.8],[-2.45,-0.9],[-2.68,-1.3],[-2.65,-1.4],[-2.62,-1.6],[-2.68,-1.75],[-2.6,-1.85],[-2.52,-1.7],[-2.5,-2.15],[-2.45,-1.85],[-2.48,-2.6],[-2.42,-2.0],[-2.4,-1.0],[-2.42,0.55],[-2.4,0.95],[-2.6,0.05],[-2.64,0.6],[-2.56,-0.4],[-2.54,0.35],[-2.66,0.15],[-2.44,-0.15],[-2.57,1.0],[-2.43,0.25],[-2.62,-0.9],
  [-2.58,0.45],[-2.52,-0.05],[-2.62,0.2],[-2.48,0.15],[-2.56,-0.5],[-2.66,-0.25],[-2.5,0.3],[-2.44,0.6],[-2.6,0.55],[-2.54,-0.2],
  [-2.3,0.9],[-2.25,0.7],[-2.28,0.5],[-2.22,0.35],[-2.3,0.2],[-2.25,0.05],[-2.2,-0.05],[-2.28,-0.2],[-2.22,-0.35],[-2.25,-0.5],[-2.3,-0.65],[-2.2,0.6],[-2.15,0.95],[-2.12,1.15],[-2.15,-0.45],[-2.18,0.15],[-2.26,-0.8],[-2.32,0.4],[-2.26,0.25],[-2.22,-0.15],[-2.24,0.45],
  [-2.0,0.75],[-1.98,0.55],[-2.02,0.35],[-1.95,0.1],[-2.0,-0.05],[-1.97,-0.3],[-2.0,-0.55],[-1.95,-0.65],[-1.98,-1.05],[-1.92,-1.2],[-1.85,1.35],[-1.82,1.3],[-1.8,1.0],[-1.85,0.8],[-1.78,0.6],[-1.82,0.4],[-1.85,0.2],[-1.8,0.05],[-1.78,-0.1],[-1.85,-0.25],[-1.8,-0.45],[-1.75,-0.6],[-1.82,-0.8],[-1.75,0.9],[-1.72,0.3],[-1.7,-0.05],[-1.68,-0.75],[-1.65,-1.05],[-1.9,0.6],[-1.88,-0.4],[-1.75,0.15],[-1.7,0.55],[-1.83,0.05],[-1.79,-0.3],[-1.81,0.5],[-1.86,-0.1],
  [-1.55,0.1],[-1.5,0.15],[-1.52,-0.05],[-1.48,-0.6],[-1.5,0.35],[-1.45,-0.35],[-1.55,0.65],
  [-1.3,1.15],[-1.25,1.25],[-1.28,0.9],[-1.22,0.7],[-1.3,0.45],[-1.25,0.3],[-1.28,0.1],[-1.22,-0.05],[-1.3,-0.2],[-1.25,-0.35],[-1.28,-0.55],[-1.22,-0.7],[-1.25,-0.8],[-1.3,0.75],[-1.2,0.2],[-1.32,-0.4],[-1.27,0.0],[-1.24,0.5],[-1.29,-0.3],
  [-3.79,0.35],[-3.81,-0.3],[-3.77,0.2],[-4.86,0.1],[-4.88,-0.1],[-4.12,0.3],
  [-0.9,0.6],[-0.85,0.55],[-0.8,0.4],[-0.78,0.45],[-0.85,0.3],[-0.9,-0.45],[-0.85,-0.8],[-0.72,-0.2],[-0.7,-0.3],[-0.68,-0.4],[-0.65,-1.1],[-0.62,0.35],[-0.6,1.2],[-0.75,-0.05],[-0.68,0.0]
];

// x-axis ticks per panel
const ticksPeakGripAdd = [20, 40, 60];
const ticksGripLoadAdd = [1, 2, 3, 4, 5];
const ticksFdiAdd = [0, 0.1, 0.2, 0.3, 0.4, 0.5];
const ticksPeakGripMul = [3.0, 3.5, 4.0];
const ticksGripLoadMul = [0.0, 0.5, 1.0, 1.5];
const ticksFdiMul = [-5, -4, -3, -2, -1];

// faint vertical reference lines (data units)
const vlinesPeakGripAdd = [27.4, 45.3, 62.8];
const vlinesGripLoadAdd = [1.89, 3.22, 4.56];
const vlinesFdiAdd = [0.112, 0.26, 0.411];
const vlinesPeakGripMul = [3.0, 3.489, 3.985];
const vlinesGripLoadMul = [0.267, 0.777, 1.289];
const vlinesFdiMul = [-3.97, -2.73, -1.52];

// ---------------- Layout ----------------
const COL_AXIS = [79, 332, 593];
const COL_RIGHT = [277, 531, 791];
const ROW_TOP = [25, 402];
const ROW_BOTTOM = [343, 715];
const Y_TITLE_CY = [173, 554];
const Y_W = 43;
const X_H = 42;
const PAD_L = 2;
const PAD_T = 5;

type PanelCfg = {
  data: Pt[];
  xMin: number;
  xMax: number;
  xTicks: number[];
  decimals: number;
  vlines: number[];
  row: number;
  col: number;
};

const panels: PanelCfg[] = [
  { data: addPeakGrip, xMin: 10.3, xMax: 78.2, xTicks: ticksPeakGripAdd, decimals: 0, vlines: vlinesPeakGripAdd, row: 0, col: 0 },
  { data: addGripLoad, xMin: 0.593, xMax: 5.64, xTicks: ticksGripLoadAdd, decimals: 0, vlines: vlinesGripLoadAdd, row: 0, col: 1 },
  { data: addFdi, xMin: -0.039, xMax: 0.537, xTicks: ticksFdiAdd, decimals: 1, vlines: vlinesFdiAdd, row: 0, col: 2 },
  { data: mulPeakGrip, xMin: 2.521, xMax: 4.42, xTicks: ticksPeakGripMul, decimals: 1, vlines: vlinesPeakGripMul, row: 1, col: 0 },
  { data: mulGripLoad, xMin: -0.245, xMax: 1.751, xTicks: ticksGripLoadMul, decimals: 1, vlines: vlinesGripLoadMul, row: 1, col: 1 },
  { data: mulFdi, xMin: -5.198, xMax: -0.457, xTicks: ticksFdiMul, decimals: 0, vlines: vlinesFdiMul, row: 1, col: 2 },
];

const AXIS_COLOR = "#7a7a7a";
const POINT_COLOR = "rgba(118,118,118,0.8)";

function Panel({ cfg }: { cfg: PanelCfg }) {
  const ref = useRef<HTMLCanvasElement>(null);
  const canvasLeft = COL_AXIS[cfg.col] - Y_W - PAD_L;
  const canvasRight = Math.min(793, COL_RIGHT[cfg.col] + 3);
  const canvasTop = ROW_TOP[cfg.row] - PAD_T;
  const canvasBottom = ROW_BOTTOM[cfg.row] + X_H;
  const w = canvasRight - canvasLeft;
  const h = canvasBottom - canvasTop;
  const padR = canvasRight - COL_RIGHT[cfg.col];

  useEffect(() => {
    const decor = {
      id: "panelDecor",
      beforeDraw(chart: any) {
        const { ctx, chartArea: a, scales } = chart;
        const xs = scales.x;
        const ys = scales.y;
        ctx.save();
        ctx.fillStyle = "#fcfcfc";
        ctx.fillRect(a.left, a.top, a.right - a.left, a.bottom - a.top);
        ctx.strokeStyle = "#e6e6e6";
        ctx.lineWidth = 1;
        for (const v of cfg.vlines) {
          const px = Math.round(xs.getPixelForValue(v)) + 0.5;
          ctx.beginPath();
          ctx.moveTo(px, a.top);
          ctx.lineTo(px, a.bottom);
          ctx.stroke();
        }
        for (const v of refLinesY) {
          const py = Math.round(ys.getPixelForValue(v)) + 0.5;
          ctx.beginPath();
          ctx.moveTo(a.left, py);
          ctx.lineTo(a.right, py);
          ctx.stroke();
        }
        ctx.restore();
      },
      beforeDatasetsDraw(chart: any) {
        const { ctx, chartArea: a, scales } = chart;
        const py = scales.y.getPixelForValue(0);
        ctx.save();
        ctx.strokeStyle = "#6b6b6b";
        ctx.lineWidth = 1.6;
        ctx.beginPath();
        ctx.moveTo(a.left, py);
        ctx.lineTo(a.right, py);
        ctx.stroke();
        ctx.restore();
      },
    };

    const chart = new Chart(ref.current as HTMLCanvasElement, {
      type: "scatter",
      data: {
        datasets: [
          {
            data: cfg.data.map(([x, y]) => ({ x, y })),
            pointStyle: "rectRot",
            pointRadius: 3.4,
            pointBorderWidth: 1,
            borderColor: POINT_COLOR,
            backgroundColor: "rgba(0,0,0,0)",
            pointBackgroundColor: "rgba(0,0,0,0)",
            pointBorderColor: POINT_COLOR,
          } as any,
        ],
      },
      options: {
        animation: false,
        responsive: false,
        devicePixelRatio: 1,
        events: [],
        layout: { padding: { left: PAD_L, right: padR, top: PAD_T, bottom: 0 } },
        plugins: { legend: { display: false }, tooltip: { enabled: false }, title: { display: false } },
        scales: {
          x: {
            type: "linear",
            min: cfg.xMin,
            max: cfg.xMax,
            afterBuildTicks: (s: any) => {
              s.ticks = cfg.xTicks.map((v) => ({ value: v }));
            },
            afterFit: (s: any) => {
              s.height = X_H;
              s.paddingLeft = 0;
              s.paddingRight = 0;
            },
            ticks: {
              autoSkip: false,
              maxRotation: 0,
              padding: 3,
              color: "#555",
              font: { size: 10 },
              callback: (v: any) => Number(v).toFixed(cfg.decimals),
            },
            grid: { display: true, drawOnChartArea: false, drawTicks: true, tickLength: 5, color: AXIS_COLOR, lineWidth: 1.2 },
            border: { display: true, color: AXIS_COLOR, width: 2 },
            title: { display: true, text: xTitle, color: "#333", font: { size: 13 }, padding: 0 },
          },
          y: {
            type: "linear",
            min: -6,
            max: 6,
            afterBuildTicks: (s: any) => {
              s.ticks = yTicks.map((v) => ({ value: v }));
            },
            afterFit: (s: any) => {
              s.width = Y_W;
              s.paddingTop = 0;
              s.paddingBottom = 0;
            },
            ticks: {
              autoSkip: false,
              padding: 4,
              color: "#555",
              font: { size: 10 },
              callback: (v: any) => String(v),
            },
            grid: { display: true, drawOnChartArea: false, drawTicks: true, tickLength: 5, color: AXIS_COLOR, lineWidth: 1.2 },
            border: { display: true, color: AXIS_COLOR, width: 2 },
            title: { display: false },
          },
        },
      } as any,
      plugins: [decor as any],
    });
    return () => chart.destroy();
  }, []);

  return (
    <>
      <canvas
        ref={ref}
        width={w}
        height={h}
        style={{ position: "absolute", left: canvasLeft, top: canvasTop, width: w, height: h }}
      />
      <div
        style={{
          position: "absolute",
          left: COL_AXIS[cfg.col] - 35,
          top: Y_TITLE_CY[cfg.row],
          transform: "translate(-50%, -50%) rotate(-90deg)",
          fontSize: 13.5,
          lineHeight: "16px",
          color: "#333",
          whiteSpace: "nowrap",
        }}
      >
        {yTitle}
      </div>
    </>
  );
}

const titleStyle: React.CSSProperties = {
  position: "absolute",
  transform: "translate(-50%, -50%)",
  fontWeight: "bold",
  fontSize: 16.5,
  lineHeight: "17.5px",
  color: "#1e1e1e",
  whiteSpace: "nowrap",
  textAlign: "center",
  zIndex: 2,
};

const titleCenters: [number, number][] = [[181, 10], [436, 19], [694, 10]];
const rowCenters: [number, number][] = [[10.5, 174], [11, 549]];

export default function App() {
  return (
    <div
      style={{
        position: "absolute",
        left: 0,
        top: 0,
        width: 793,
        height: 759,
        background: "#fff",
        overflow: "hidden",
        fontFamily: '"Liberation Sans", Arial, Helvetica, sans-serif',
      }}
    >
      {panels.map((p, i) => (
        <Panel key={i} cfg={p} />
      ))}
      {columnTitles.map((lines, i) => (
        <div key={"t" + i} style={{ ...titleStyle, left: titleCenters[i][0], top: titleCenters[i][1] }}>
          {lines.map((l, j) => (
            <div key={j}>{l}</div>
          ))}
        </div>
      ))}
      {rowTitles.map((t, i) => (
        <div
          key={"r" + i}
          style={{
            ...titleStyle,
            left: rowCenters[i][0],
            top: rowCenters[i][1],
            transform: "translate(-50%, -50%) rotate(-90deg)",
          }}
        >
          {t}
        </div>
      ))}
    </div>
  );
}
